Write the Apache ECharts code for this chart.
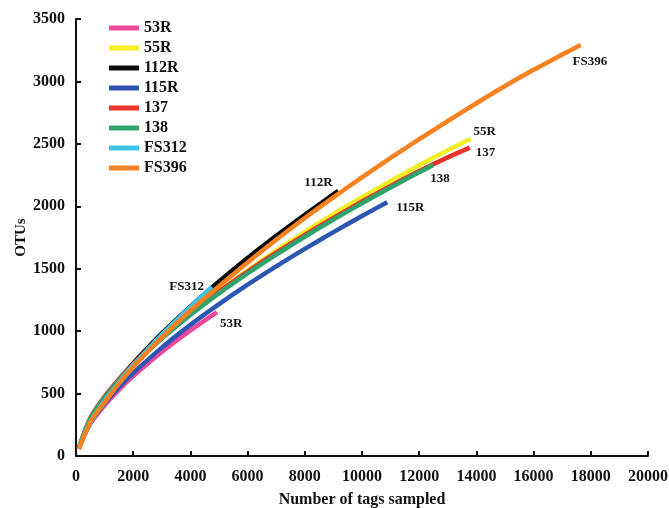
<!DOCTYPE html>
<html>
<head>
<meta charset="utf-8">
<script src="https://cdn.jsdelivr.net/npm/echarts@6/dist/echarts.min.js"></script>
<style>
html,body{margin:0;padding:0;background:#fff;}
#chart{width:669px;height:508px;}
</style>
</head>
<body>
<div id="chart"></div>
<script>
// Sampling depths (number of tags sampled)
const depths = [100, 500, 1000, 1500, 2000, 3000, 4000, 5000, 6000, 7000, 8000, 9000, 10000, 11000, 12000, 13000, 14000, 15000, 16000, 17000];
const sampleNames = ['53R', '55R', '112R', '115R', '137', '138', 'FS312', 'FS396'];
// OTU counts on the depth grid for each sample
const otus53R  = [65, 259, 407, 530, 640, 834, 1006];
const otus55R  = [65, 300, 468, 608, 732, 950, 1144, 1321, 1486, 1645, 1795, 1937, 2072, 2202, 2328, 2449];
const otus112R = [65, 285, 460, 609, 742, 982, 1197, 1397, 1585, 1763, 1932, 2096];
const otus115R = [65, 266, 420, 550, 664, 868, 1050, 1216, 1372, 1519, 1659, 1793, 1922];
const otus137  = [65, 305, 475, 614, 737, 953, 1144, 1316, 1477, 1628, 1771, 1907, 2038, 2163, 2282, 2392];
const otus138  = [65, 300, 467, 605, 726, 940, 1130, 1302, 1462, 1613, 1756, 1893, 2024, 2151, 2272];
const otusFS312 = [65, 267, 440, 589, 725, 972, 1195];
const otusFS396 = [55, 270, 430, 580, 713, 950, 1165, 1360, 1550, 1732, 1906, 2072, 2232, 2387, 2537, 2683, 2825, 2963, 3093, 3215];
// Final (maximum) depth and OTUs for each sample
const endDepths = [4928, 13794, 9173, 10883, 13770, 12489, 4754, 17644];
const endOTUs   = [1153, 2541, 2124, 2033, 2470, 2330, 1354, 3292];
const xTicks = [0, 2000, 4000, 6000, 8000, 10000, 12000, 14000, 16000, 18000, 20000];
const yTicks = [0, 500, 1000, 1500, 2000, 2500, 3000, 3500];

const colors = ['#f0479c', '#f3ef25', '#0a0a0a', '#2d56b2', '#e8342b', '#2ea36c', '#3fc3ec', '#f7821f'];
const allOtus = [otus53R, otus55R, otus112R, otus115R, otus137, otus138, otusFS312, otusFS396];
// label placement relative to curve ends (px): [dx, dy, align]
const labelOffsets = [[3, 12, 'left'], [3, -7, 'left'], [-34, -8, 'left'], [9, 5, 'left'], [6, 5, 'left'], [-3, 14, 'left'], [-8, 0, 'right'], [-8, 17, 'left']];

const FONT = '"Liberation Serif", "Times New Roman", serif';

const series = sampleNames.map((name, i) => {
  const pts = allOtus[i].map((v, j) => [depths[j], v]);
  pts.push([endDepths[i], endOTUs[i]]);
  return {
    name: name,
    type: 'line',
    data: pts,
    showSymbol: false,
    smooth: 0.25,
    color: colors[i],
    lineStyle: { width: 4.5, color: colors[i], cap: 'butt' },
    z: 2 + i,
    silent: true
  };
});

const chart = echarts.init(document.getElementById('chart'), null, { renderer: 'canvas' });
const option = {
  animation: false,
  backgroundColor: '#ffffff',
  grid: { left: 76, right: 21, top: 19, bottom: 52, containLabel: false, outerBoundsMode: 'none' },
  legend: {
    data: sampleNames,
    orient: 'vertical',
    left: 104,
    top: 15,
    icon: 'rect',
    itemWidth: 30,
    itemHeight: 5,
    itemGap: 4,
    textStyle: { fontFamily: FONT, fontWeight: 'bold', fontSize: 16, color: '#111', lineHeight: 16, padding: [0, 0, 0, 0] }
  },
  xAxis: {
    type: 'value',
    min: xTicks[0],
    max: xTicks[xTicks.length - 1],
    interval: xTicks[1] - xTicks[0],
    name: 'Number of tags sampled',
    nameLocation: 'middle',
    nameGap: 36,
    nameMoveOverlap: false,
    nameTextStyle: { fontFamily: FONT, fontWeight: 'bold', fontSize: 16, color: '#111' },
    axisLine: { lineStyle: { color: '#111', width: 2 } },
    axisTick: { inside: true, length: 5, lineStyle: { color: '#111', width: 2 } },
    axisLabel: { fontFamily: FONT, fontWeight: 'bold', fontSize: 16, color: '#111', margin: 13, formatter: v => String(v) },
    splitLine: { show: false }
  },
  yAxis: {
    type: 'value',
    min: yTicks[0],
    max: yTicks[yTicks.length - 1],
    interval: yTicks[1] - yTicks[0],
    name: 'OTUs',
    nameLocation: 'middle',
    nameGap: 47,
    nameMoveOverlap: false,
    nameRotate: 90,
    nameTextStyle: { fontFamily: FONT, fontWeight: 'bold', fontSize: 15, color: '#111' },
    axisLine: { show: true, lineStyle: { color: '#111', width: 2 } },
    axisTick: { show: true, inside: true, length: 5, lineStyle: { color: '#111', width: 2 } },
    axisLabel: { fontFamily: FONT, fontWeight: 'bold', fontSize: 16, color: '#111', margin: 11, formatter: v => String(v) },
    splitLine: { show: false }
  },
  series: series
};
chart.setOption(option);

// end-of-curve sample labels, anchored to each curve's last point
const graphics = sampleNames.map((name, i) => {
  const p = chart.convertToPixel({ gridIndex: 0 }, [endDepths[i], endOTUs[i]]);
  const o = labelOffsets[i];
  return {
    type: 'text',
    x: p[0] + o[0],
    y: p[1] + o[1],
    z: 100,
    style: {
      text: name,
      fontFamily: FONT,
      fontWeight: 'bold',
      fontSize: 13,
      fill: '#111',
      align: o[2],
      verticalAlign: 'middle'
    }
  };
});
chart.setOption({ graphic: graphics });
</script>
</body>
</html>
